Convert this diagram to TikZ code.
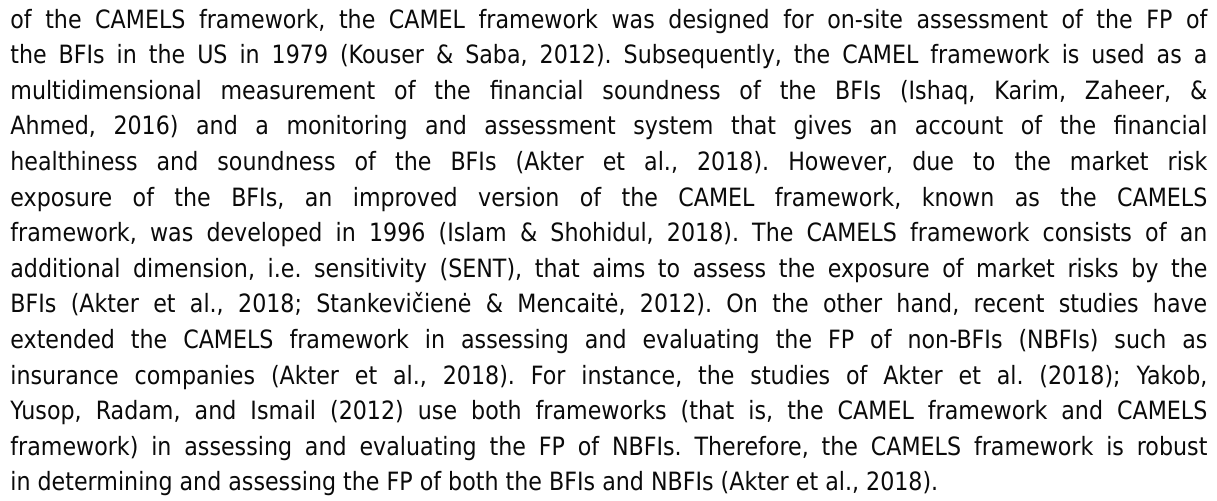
\documentclass[tikz,border=0pt]{standalone}
\usepackage{fontspec}
\setmainfont{DejaVu Sans}[FakeStretch=0.88]
\usetikzlibrary{positioning}
\definecolor{inkgray}{RGB}{10, 10, 10}
\tikzset{
  txtline/.style={anchor=base west, inner sep=0pt, text=inkgray,
    font=\fontsize{12.6pt}{17.8pt}\selectfont\frenchspacing}
}

\begin{document}
\begin{tikzpicture}[x=1pt, y=1pt]
        \useasboundingbox (0,0) rectangle (608.5,250);
        \def\linew{598.5pt}
        \def\lsep{17.8}
        % justified lines, stretched to the full width
        \foreach \txt [count=\y] in {
          {of the CAMELS framework, the CAMEL framework was designed for on-site assessment of the FP of},
          {the BFIs in the US in 1979 (Kouser \& Saba, 2012). Subsequently, the CAMEL framework is used as a},
          {multidimensional measurement of the financial soundness of the BFIs (Ishaq, Karim, Zaheer, \&},
          {Ahmed, 2016) and a monitoring and assessment system that gives an account of the financial},
          {healthiness and soundness of the BFIs (Akter et al., 2018). However, due to the market risk},
          {exposure of the BFIs, an improved version of the CAMEL framework, known as the CAMELS},
          {framework, was developed in 1996 (Islam \& Shohidul, 2018). The CAMELS framework consists of an},
          {additional dimension, i.e. sensitivity (SENT), that aims to assess the exposure of market risks by the},
          {BFIs (Akter et al., 2018; Stankevičienė \& Mencaitė, 2012). On the other hand, recent studies have},
          {extended the CAMELS framework in assessing and evaluating the FP of non-BFIs (NBFIs) such as},
          {insurance companies (Akter et al., 2018). For instance, the studies of Akter et al. (2018); Yakob,},
          {Yusop, Radam, and Ismail (2012) use both frameworks (that is, the CAMEL framework and CAMELS},
          {framework) in assessing and evaluating the FP of NBFIs. Therefore, the CAMELS framework is robust}}{
          \node[txtline] (line\y) at (5,{236-\lsep*(\y-1)}) {\makebox[\linew][s]{\txt}};
        }
        % last line keeps its natural width
        \node[txtline] (line14) at (5,{236-\lsep*13}) {in determining and assessing the FP of both the BFIs and NBFIs (Akter et al., 2018).};
\end{tikzpicture}
\end{document}
